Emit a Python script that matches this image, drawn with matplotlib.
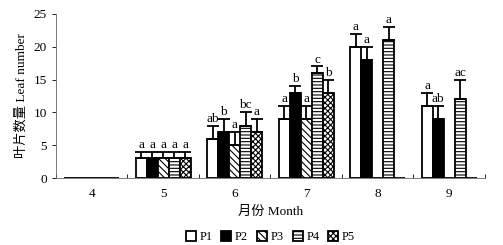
import numpy as np
import matplotlib.pyplot as plt

plt.rcParams['font.family'] = ['Liberation Serif', 'Noto Sans CJK SC']
plt.rcParams['hatch.linewidth'] = 0.8

months = ['4', '5', '6', '7', '8', '9']
series = ['P1', 'P2', 'P3', 'P4', 'P5']

p1 = [0, 3, 6, 9, 20, 11]
p2 = [0, 3, 7, 13, 18, 9]
p3 = [0, 3, 5, 9, 0, 0]
p4 = [0, 3, 8, 16, 21, 12]
p5 = [0, 3, 7, 13, 0, 0]

e1 = [0, 1, 2, 2, 2, 2]
e2 = [0, 1, 2, 1, 2, 2]
e3 = [0, 1, 2, 2, 0, 0]
e4 = [0, 1, 2, 1, 2, 3]
e5 = [0, 1, 2, 2, 0, 0]

l1 = ['', 'a', 'ab', 'a', 'a', 'a']
l2 = ['', 'a', 'b', 'b', 'a', 'ab']
l3 = ['', 'a', 'a', 'a', '', '']
l4 = ['', 'a', 'bc', 'c', 'a', 'ac']
l5 = ['', 'a', 'a', 'b', '', '']

values = [p1, p2, p3, p4, p5]
errors = [e1, e2, e3, e4, e5]
letters = [l1, l2, l3, l4, l5]
faces = ['white', 'black', 'white', 'white', 'white']
hatches = [None, None, '\\\\\\\\\\', '-----', 'xxxxxx']

fig = plt.figure(figsize=(5.03, 2.45), dpi=100)
ax = fig.add_axes([0.111, 0.273, 0.853, 0.670])

x = np.arange(len(months))
w = 0.154
for i in range(5):
    pos = x + (i - 2) * w
    v = np.array(values[i])
    err = np.array(errors[i])
    ax.bar(pos, v, w, color=faces[i], edgecolor='black', linewidth=1.3,
           hatch=hatches[i], label=series[i], zorder=2)
    mask = v > 0
    ax.errorbar(pos[mask], v[mask], yerr=[np.zeros(mask.sum()), err[mask]],
                fmt='none', ecolor='black', elinewidth=1.3, capsize=4,
                capthick=1.3, zorder=3)
    for j in range(len(months)):
        if letters[i][j]:
            ax.text(pos[j], v[j] + err[j] + 0.15, letters[i][j], ha='center',
                    va='bottom', fontsize=9.5)

ax.set_xlim(-0.5, len(months) - 0.5)
ax.set_ylim(0, 25)
ax.set_yticks([0, 5, 10, 15, 20, 25])
ax.set_xticks(x)
ax.set_xticklabels(months)
ax.set_xticks(np.arange(-0.5, len(months)), minor=True)
ax.tick_params(axis='x', which='major', length=0, labelsize=9.5, pad=7)
ax.tick_params(axis='x', which='minor', direction='in', length=3, width=0.6)
ax.tick_params(axis='y', labelsize=9.5, length=3, width=0.6)
ax.spines['top'].set_visible(False)
ax.spines['right'].set_visible(False)
ax.spines['left'].set_linewidth(0.6)
ax.spines['bottom'].set_linewidth(0.6)
ax.spines['left'].set_color('#666666')
ax.spines['bottom'].set_color('#666666')

ax.set_xlabel('月份 Month', fontsize=9.5, labelpad=4)
ax.set_ylabel('叶片数量 Leaf number', fontsize=9.5, labelpad=4)

ax.legend(loc='center', bbox_to_anchor=(0.5, -0.36), ncol=5,
          frameon=False, fontsize=9, handlelength=0.8, handleheight=0.8,
          handletextpad=0.3, columnspacing=0.7)

fig.savefig('out.png', dpi=100)
